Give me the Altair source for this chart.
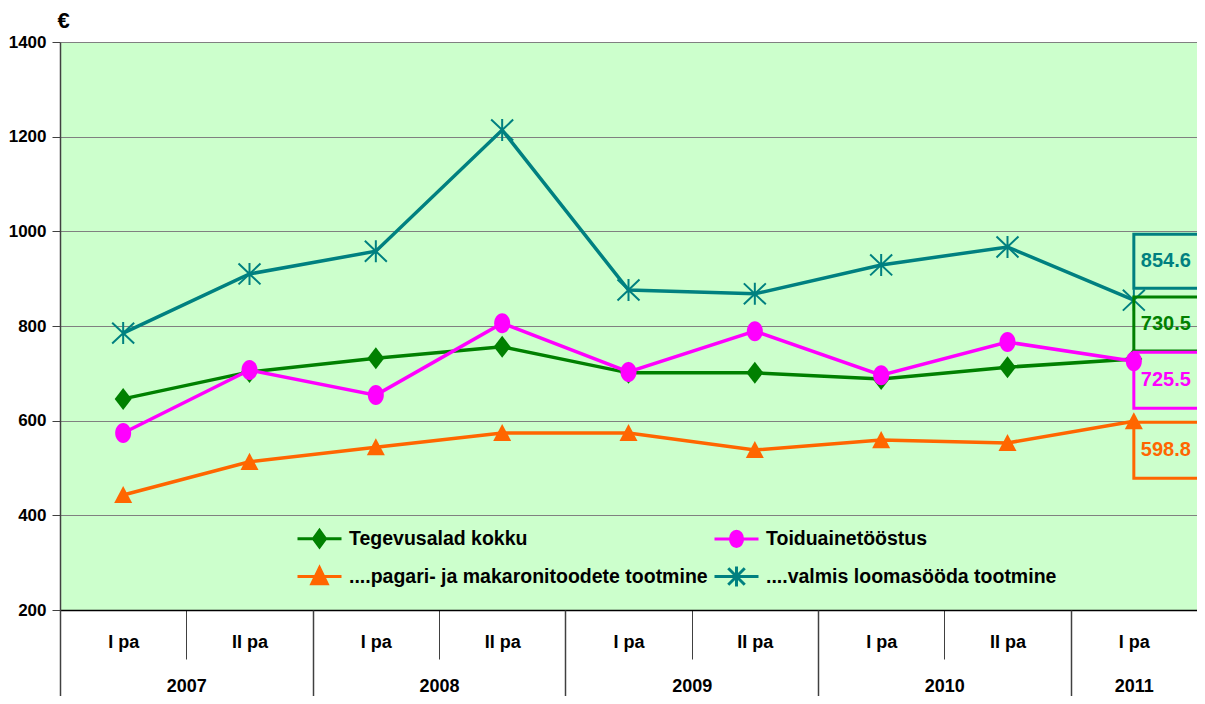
import altair as alt
import pandas as pd

# ---------------- data ----------------
years = ["2007", "2007", "2008", "2008", "2009", "2009", "2010", "2010", "2011"]
halves = ["I pa", "II pa", "I pa", "II pa", "I pa", "II pa", "I pa", "II pa", "I pa"]
series_names = [
    "Tegevusalad kokku",
    "Toiduainetööstus",
    "....pagari- ja makaronitoodete tootmine",
    "....valmis loomasööda tootmine",
]
tegevusalad = [646, 703, 732, 756, 701, 701, 688, 713, 730.5]
toiduaine = [574, 707, 654, 806, 703, 789, 696, 766, 725.5]
pagari = [443, 513, 544, 574, 574, 538, 559, 553, 598.8]
loomasoot = [785, 910, 958, 1214, 876, 868, 929, 967, 854.6]
y_ticks = [200, 400, 600, 800, 1000, 1200, 1400]

# ---------------- styling ----------------
colors = ["#008000", "#FF00FF", "#FF6600", "#008080"]
FONT = "Liberation Sans, Arial, sans-serif"
W, H = 1137, 568

periods = [f"{y}|{h}" for y, h in zip(years, halves)]
values_by_series = [tegevusalad, toiduaine, pagari, loomasoot]

rows = []
for name, vals in zip(series_names, values_by_series):
    for p, v in zip(periods, vals):
        rows.append({"period": p, "series": name, "value": v})
df = pd.DataFrame(rows)

# year label / divider positions in half-year units
uniq_years = []
for y in years:
    if y not in uniq_years:
        uniq_years.append(y)
year_rows, start = [], 0
for y in uniq_years:
    n = years.count(y)
    year_rows.append({"year": y, "start": start, "mid": start + n / 2})
    start += n
year_df = pd.DataFrame(year_rows)
total = len(periods)

# legend is laid out column by column: order domain so rows read as in the reference
legend_order = [0, 2, 1, 3]
cscale = alt.Scale(domain=[series_names[i] for i in legend_order],
                   range=[colors[i] for i in legend_order])

marker_paths = [
    ("M0,-1L0.77,0L0,1L-0.77,0Z", 484, True),
    ("M-0.8,0A0.8,1,0,1,0,0.8,0A0.8,1,0,1,0,-0.8,0Z", 400, True),
    ("M0,-1L1,0.9H-1Z", 324, True),
    ("M0,-1V1M-1,-0.95L1,0.95M-1,0.95L1,-0.95", 484, False),
]
legend_paths = [
    "M-2,0H2M0,-0.75L0.55,0L0,0.75L-0.55,0Z",
    "M-2,0H2M-0.55,0A0.55,0.7,0,1,0,0.55,0A0.55,0.7,0,1,0,-0.55,0Z",
    "M-2,0H2M0,-0.8L0.7,0.65H-0.7Z",
    "M-2,0H2M0,-0.9V0.9M-0.75,-0.75L0.75,0.75M-0.75,0.75L0.75,-0.75",
]
shape_expr = ""
for n, p in zip(series_names, legend_paths):
    shape_expr += f"datum.value === '{n}' ? '{p}' : "
shape_expr += "'circle'"

legend = alt.Legend(
    orient="none", legendX=247, legendY=484, columns=2, title=None, padding=0,
    symbolSize=484, symbolStrokeWidth=3, labelOffset=17,
    symbolType={"expr": shape_expr},
    symbolFillColor={"expr": "scale('color', datum.value)"},
    symbolStrokeColor={"expr": "scale('color', datum.value)"},
    symbolOpacity=1,
    labelFont=FONT, labelFontSize=19.5, labelFontWeight="bold", labelColor="black",
    labelLimit=800, rowPadding=7, columnPadding=0,
)

x_enc = alt.X(
    "period:N", sort=periods,
    scale=alt.Scale(type="band", paddingInner=0, paddingOuter=0),
    axis=alt.Axis(
        title=None, labelExpr="split(datum.value, '|')[1]", labelAngle=0,
        labelFont=FONT, labelFontSize=18, labelFontWeight="bold", labelColor="black",
        labelBaseline="middle", labelPadding=-17,
        tickBand="extent", tickSize=49, tickColor="#404040", tickWidth=1,
        domainColor="black", domainWidth=1.5, grid=False,
    ),
)
y_enc = alt.Y(
    "value:Q",
    scale=alt.Scale(domain=[200, 1400], nice=False, zero=False),
    axis=alt.Axis(
        values=y_ticks, format="d", title="€", titleAngle=0, titleAlign="left",
        titleBaseline="bottom", titleX=-3, titleY=-10, titleFont=FONT, titleFontSize=22,
        titleFontWeight="bold", titleColor="black",
        labelFont=FONT, labelFontSize=17, labelFontWeight="bold", labelColor="black",
        labelPadding=6, tickSize=8, tickColor="#404040", domainColor="#404040",
        domainWidth=1.5, gridColor="#808080", gridWidth=1,
    ),
)
color_enc = alt.Color("series:N", scale=cscale, legend=legend)

# label boxes: (top offset, bottom offset) in px relative to last point
label_boxes = [(-62, -8), (-9, 47), (1, 57), (-66, -12)]
bw = W / total

layers = []
for i, name in enumerate(series_names):
    base = alt.Chart(df).transform_filter(alt.datum.series == name)
    layers.append(base.mark_line(strokeWidth=3.5).encode(x=x_enc, y=y_enc, color=color_enc))
    path, size, filled = marker_paths[i]
    if filled:
        pm = base.mark_point(shape=path, size=size, filled=True, opacity=1, strokeWidth=0)
    else:
        pm = base.mark_point(shape=path, size=size, filled=False, opacity=1, strokeWidth=2)
    layers.append(pm.encode(x=x_enc, y=y_enc, color=color_enc))

for i, name in enumerate(series_names):
    last = alt.Chart(df).transform_filter(
        (alt.datum.series == name) & (alt.datum.period == periods[-1]))
    top, bot = label_boxes[i]
    layers.append(last.mark_rect(filled=False, stroke=colors[i], strokeWidth=3,
                                 xOffset=bw / 2, x2Offset=bw / 2,
                                 yOffset=top, y2Offset=bot).encode(
        x=x_enc, y=y_enc, y2=alt.Y2("value:Q")))
    layers.append(last.mark_text(align="left", baseline="middle", dx=7, dy=(top + bot) / 2,
                                 font=FONT, fontSize=20, fontWeight="bold",
                                 color=colors[i]).encode(
        x=x_enc, y=y_enc, text=alt.Text("value:Q", format=".1f")))

main = alt.layer(*layers)

qscale = alt.Scale(domain=[0, total], nice=False, zero=False)
year_label_expr = ""
for r in year_rows:
    year_label_expr += f"datum.value === {r['mid']} ? '{r['year']}' : "
year_label_expr += "''"
year_labels = alt.Chart(year_df).mark_point(opacity=0).encode(
    x=alt.X("mid:Q", scale=qscale, axis=alt.Axis(
        orient="bottom", title=None, values=list(year_df["mid"]),
        labelExpr=year_label_expr, grid=False, domain=False, ticks=False,
        tickSize=0, labelPadding=76, labelBaseline="middle",
        labelFont=FONT, labelFontSize=18, labelFontWeight="bold", labelColor="black")))
year_dividers = alt.Chart(year_df).mark_point(opacity=0).encode(
    x=alt.X("start:Q", scale=qscale, axis=alt.Axis(
        orient="bottom", title=None, values=list(year_df["start"]),
        labels=False, grid=False, domain=False, ticks=True,
        tickSize=94, tickColor="#404040", tickWidth=1.5)))

chart = alt.layer(main, year_dividers, year_labels).resolve_scale(
    x="independent").resolve_axis(x="independent").properties(
    width=W, height=H,
    autosize=alt.AutoSizeParams(type="none"),
    padding={"left": 52, "top": 34, "right": 0, "bottom": 86},
    background="white",
).configure_view(fill="#CCFFCC", stroke=None)

chart.save("out.html", embed_options={"renderer": "svg", "actions": False})
